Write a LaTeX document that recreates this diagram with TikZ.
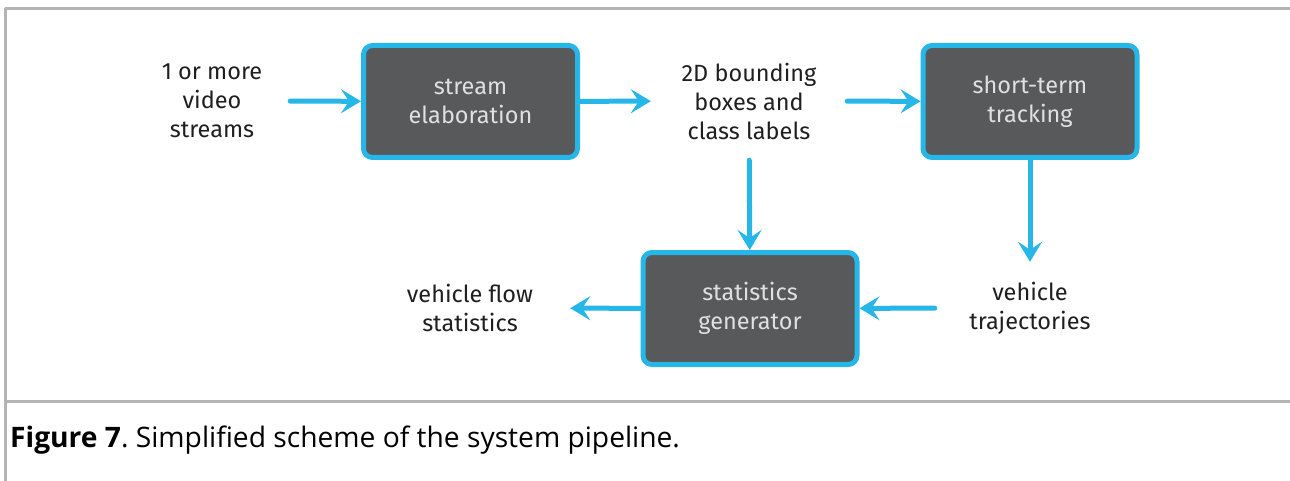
\documentclass[tikz,border=0pt]{standalone}
\usepackage{fontspec}
\setmainfont{Fira Sans}
\newfontfamily\capfont{Open Sans}
\usetikzlibrary{arrows.meta}
\frenchspacing

\definecolor{flowcyan}{RGB}{38,182,232}
\definecolor{boxgray}{RGB}{88,89,91}
\definecolor{framegray}{RGB}{180,180,180}

\begin{document}
\begin{tikzpicture}[x=1pt,y=-1pt,line cap=round,line join=round,
  stage/.style={draw=flowcyan,fill=boxgray,line width=5pt,rounded corners=9pt,
    minimum width=214pt,minimum height=112pt,inner sep=0pt,align=center,
    text=white!88!black,font=\fontsize{23.5}{29}\selectfont},
  lbl/.style={inner sep=0pt,align=center,text=black!88,
    font=\fontsize{23.5}{29}\selectfont},
  arr/.style={draw=flowcyan,line width=5pt,
    -{Stealth[length=20pt,width=24pt,inset=8pt]}}]
\useasboundingbox (0,0) rectangle (1290,481);

% frame
\draw[framegray,line width=3pt,line cap=butt] (1290,9)--(5,9)--(5,481);
\draw[framegray,line width=3pt,line cap=butt] (5,401)--(1290,401);

\node[stage] (se) at (470.5,101.5) {stream\\elaboration};
\node[stage] (track) at (1030,101.5) {short-term\\tracking};
\node[stage] (gen) at (750,308.5) {statistics\\generator};

\node[lbl,minimum width=156pt,minimum height=90pt] (in) at (212,101) {1 or more\\video\\streams};
\node[lbl,minimum width=196pt,minimum height=118pt] (bbox) at (749,101) {2D bounding\\boxes and\\class labels};
\node[lbl,minimum width=200pt,minimum height=90pt] (flow) at (470,308) {vehicle flow\\statistics};
\node[lbl,minimum width=190pt,minimum height=92pt] (traj) at (1030,308) {vehicle\\trajectories};

\draw[arr] (in) -- (se);
\draw[arr] (se) -- (bbox);
\draw[arr] (bbox) -- (track);
\draw[arr] (bbox) -- (gen);
\draw[arr] (track) -- (traj);
\draw[arr] (traj) -- (gen);
\draw[arr] (gen) -- (flow);

\node[anchor=base west,inner sep=0pt,font=\capfont\fontsize{28.2}{32}\selectfont] (cap) at (10,447)
  {\textbf{Figure 7}. Simplified scheme of the system pipeline.};
\end{tikzpicture}
\end{document}
